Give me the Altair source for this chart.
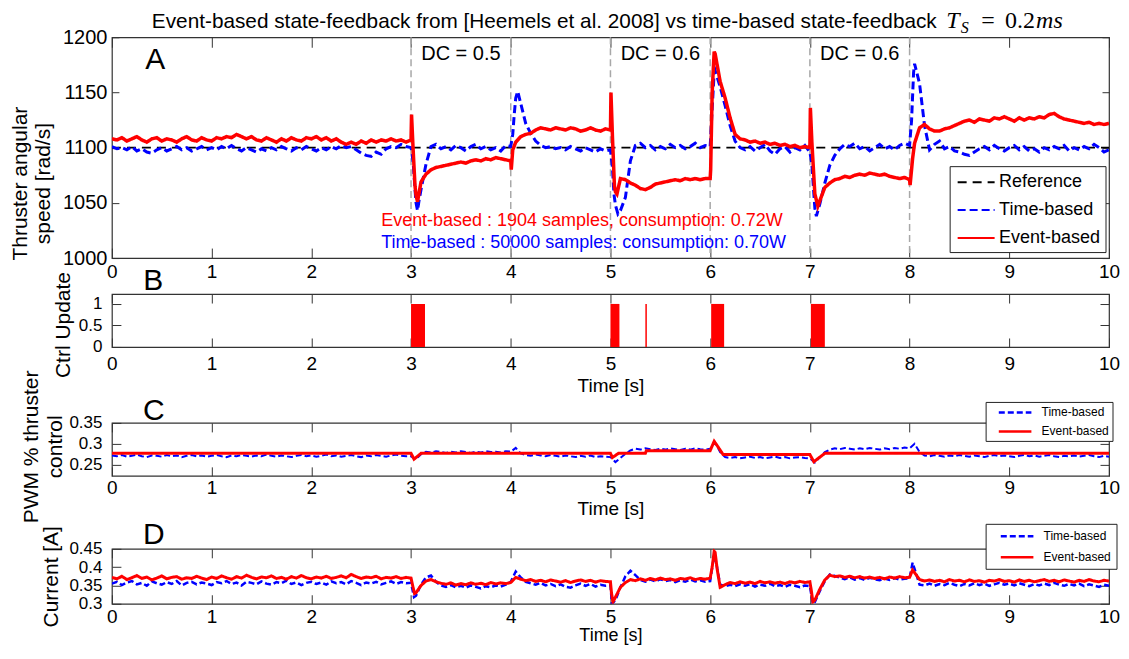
import altair as alt
import pandas as pd

FONT = "Liberation Sans"
SERIF = "Liberation Serif"
BLUE = "#0000ff"
RED = "#ff0000"

# ---------------- shared time axis ----------------
x_ticks = list(range(11))
grid_t = [round(i * 0.05, 2) for i in range(201)]  # sample instants of the arrays below

# ---------------- panel A : thruster angular speed [rad/s] ----------------
speed_event = [
    1108, 1107, 1109, 1106, 1108, 1110, 1107, 1105, 1108, 1109, 1106, 1108, 1107, 1105, 1108, 1110, 1107, 1106, 1109, 1107,
    1106, 1109, 1108, 1110, 1109, 1112, 1110, 1108, 1110, 1107, 1106, 1109, 1107, 1105, 1108, 1106, 1109, 1107, 1106, 1109,
    1108, 1110, 1107, 1109, 1106, 1108, 1105, 1103, 1105, 1103, 1106, 1104, 1107, 1105, 1107, 1106, 1108, 1106, 1107, 1105,
    1107, 1057, 1069, 1076, 1080, 1082, 1083, 1084, 1085, 1086, 1087, 1086, 1088, 1089, 1088, 1090, 1089, 1091, 1090, 1089,
    1088, 1105, 1110, 1112, 1113, 1116, 1118, 1117, 1116, 1118, 1117, 1116, 1118, 1117, 1115, 1116, 1118, 1116, 1115, 1117,
    1116, 1060, 1072, 1071, 1068, 1066, 1063, 1062, 1064, 1067, 1068, 1069, 1070, 1071, 1070, 1072, 1071, 1072, 1071, 1072,
    1072, 1185, 1160, 1145, 1127, 1112, 1108, 1107, 1105, 1106, 1104, 1105, 1103, 1104, 1102, 1103, 1101, 1102, 1100, 1101,
    1100, 1058, 1052, 1064, 1068, 1071, 1072, 1074, 1073, 1075, 1076, 1075, 1077, 1076, 1075, 1076, 1074, 1073, 1072, 1073,
    1071, 1104, 1118, 1121, 1117, 1115, 1115, 1117, 1118, 1120, 1122, 1124, 1125, 1123, 1126, 1125, 1124, 1127, 1126, 1128,
    1126, 1124, 1127, 1125, 1127, 1126, 1128, 1127, 1130, 1131, 1128, 1126, 1125, 1124, 1123, 1122, 1123, 1121, 1122, 1121,
    1122,
]
speed_event_extra_t = [3.005, 3.02, 3.04, 3.065, 4.005, 4.02, 5.005, 5.02, 5.04, 5.065,
                       6.005, 6.02, 6.04, 7.005, 7.02, 7.08, 8.005, 8.03]
speed_event_extra_v = [1130, 1100, 1065, 1051, 1080, 1098, 1150, 1110, 1065, 1058,
                       1080, 1150, 1187, 1136, 1105, 1047, 1066, 1090]

speed_time = [
    1101, 1099, 1100, 1098, 1101, 1097, 1099, 1096, 1095, 1098, 1100, 1097, 1099, 1101, 1098, 1100, 1097, 1099, 1101, 1098,
    1100, 1098, 1101, 1099, 1102, 1099, 1097, 1100, 1098, 1096, 1099, 1097, 1100, 1098, 1101, 1099, 1097, 1100, 1098, 1101,
    1099, 1097, 1100, 1098, 1101, 1099, 1102, 1100, 1101, 1098, 1095, 1093, 1092, 1096, 1094, 1099, 1101, 1100, 1103, 1101,
    1100, 1050, 1062, 1085, 1101, 1103, 1099, 1101, 1098, 1102, 1100, 1097, 1101, 1103, 1099, 1101, 1098, 1100, 1097, 1102,
    1101, 1145, 1140, 1122, 1113, 1106, 1102, 1100, 1101, 1099, 1100, 1098, 1101, 1099, 1097, 1100, 1098, 1096, 1099, 1097,
    1098, 1048, 1043, 1055, 1088, 1102, 1104, 1100, 1102, 1098, 1101, 1099, 1103, 1100, 1102, 1099, 1101, 1104, 1100, 1102,
    1101, 1170, 1155, 1138, 1120, 1106, 1100, 1098, 1101, 1097, 1100, 1103, 1097, 1094, 1099, 1101, 1096, 1100, 1098, 1102,
    1096, 1045, 1049, 1068, 1084, 1093, 1099, 1103, 1101, 1104, 1099, 1101, 1097, 1100, 1103, 1099, 1101, 1098, 1102, 1104,
    1102, 1176, 1158, 1120, 1098, 1103, 1106, 1099, 1101, 1097, 1096, 1094, 1093, 1096, 1099, 1101, 1098, 1102, 1099, 1097,
    1100, 1102, 1098, 1101, 1097, 1099, 1096, 1100, 1098, 1101, 1099, 1102, 1097, 1100, 1098, 1101, 1099, 1103, 1100, 1096,
    1098,
]
speed_time_extra_t = [3.02, 3.04, 3.065, 3.08, 4.02, 4.035, 4.07, 5.02, 5.035, 5.075,
                      6.02, 6.04, 7.02, 7.04, 7.065, 8.02, 8.04]
speed_time_extra_v = [1088, 1062, 1043, 1052, 1112, 1130, 1151, 1082, 1058, 1040,
                      1135, 1168, 1085, 1058, 1038, 1125, 1168]

reference_t = [0, 10]
reference_speed = [1100, 1100]
step_times = [3, 4, 5, 6, 7, 8]
dc_times = [3.5, 5.5, 7.5]
dc_labels = ["DC = 0.5", "DC = 0.6", "DC = 0.6"]
speed_ticks = [1000, 1050, 1100, 1150, 1200]

# ---------------- panel B : control updates ----------------
update_start = [3.0, 5.0, 5.35, 6.01, 7.01]
update_end = [3.14, 5.09, 5.365, 6.14, 7.15]
update_low = [0, 0, 0, 0, 0]
update_high = [1, 1, 1, 1, 1]
ctrl_ticks = [0, 0.5, 1]

# ---------------- panel C : PWM % thruster control ----------------
pwm_time = [
    0.272, 0.270, 0.273, 0.269, 0.271, 0.274, 0.270, 0.268, 0.272, 0.271, 0.269, 0.273, 0.270, 0.272, 0.268, 0.271, 0.273, 0.270, 0.272, 0.269,
    0.271, 0.273, 0.270, 0.268, 0.272, 0.270, 0.273, 0.271, 0.269, 0.272, 0.270, 0.274, 0.271, 0.269, 0.272, 0.270, 0.268, 0.271, 0.273, 0.270,
    0.272, 0.269, 0.271, 0.274, 0.270, 0.272, 0.269, 0.271, 0.273, 0.270, 0.268, 0.272, 0.270, 0.273, 0.271, 0.269, 0.272, 0.274, 0.271, 0.270,
    0.270, 0.263, 0.275, 0.281, 0.279, 0.282, 0.280, 0.278, 0.281, 0.279, 0.282, 0.280, 0.278, 0.281, 0.279, 0.282, 0.280, 0.281, 0.279, 0.282,
    0.281, 0.290, 0.277, 0.273, 0.271, 0.274, 0.272, 0.270, 0.273, 0.271, 0.269, 0.272, 0.270, 0.268, 0.271, 0.269, 0.272, 0.268, 0.270, 0.269,
    0.268, 0.256, 0.266, 0.276, 0.284, 0.288, 0.286, 0.289, 0.287, 0.285, 0.288, 0.286, 0.289, 0.287, 0.285, 0.288, 0.286, 0.289, 0.287, 0.286,
    0.288, 0.303, 0.280, 0.268, 0.266, 0.268, 0.265, 0.267, 0.269, 0.266, 0.268, 0.265, 0.267, 0.269, 0.266, 0.268, 0.265, 0.267, 0.268, 0.266,
    0.265, 0.255, 0.268, 0.280, 0.286, 0.289, 0.287, 0.290, 0.288, 0.286, 0.289, 0.287, 0.290, 0.288, 0.286, 0.289, 0.287, 0.290, 0.288, 0.291,
    0.289, 0.300, 0.280, 0.272, 0.270, 0.273, 0.271, 0.269, 0.272, 0.270, 0.273, 0.271, 0.269, 0.272, 0.270, 0.268, 0.271, 0.273, 0.270, 0.272,
    0.270, 0.268, 0.271, 0.273, 0.270, 0.272, 0.269, 0.271, 0.273, 0.270, 0.268, 0.271, 0.270, 0.272, 0.269, 0.271, 0.273, 0.270, 0.268, 0.271,
    0.269,
]
pwm_event_t = [0, 3.0, 3.03, 3.1, 5.0, 5.02, 5.08, 5.35, 5.36, 6.0, 6.04, 6.1, 6.13, 7.0, 7.04, 7.15, 10]
pwm_event_v = [0.277, 0.277, 0.263, 0.277, 0.277, 0.267, 0.277, 0.277, 0.2835, 0.2835, 0.306, 0.285, 0.274,
               0.274, 0.257, 0.277, 0.277]
pwm_ticks = [0.25, 0.3, 0.35]

# ---------------- panel D : current [A] ----------------
current_event = [
    0.372, 0.368, 0.375, 0.366, 0.371, 0.377, 0.369, 0.373, 0.365, 0.370, 0.376, 0.368, 0.372, 0.374, 0.367, 0.371, 0.369, 0.375, 0.370, 0.366,
    0.373, 0.369, 0.376, 0.371, 0.367, 0.374, 0.370, 0.378, 0.372, 0.368, 0.373, 0.371, 0.376, 0.369, 0.372, 0.367, 0.374, 0.370, 0.377, 0.371,
    0.368, 0.373, 0.370, 0.375, 0.369, 0.372, 0.376, 0.371, 0.380, 0.374, 0.369, 0.373, 0.371, 0.375, 0.368, 0.372, 0.370, 0.374, 0.369, 0.372,
    0.370, 0.330, 0.350, 0.362, 0.366, 0.360, 0.356, 0.353, 0.357, 0.351, 0.355, 0.352, 0.357, 0.353, 0.356, 0.352, 0.358, 0.354, 0.357, 0.355,
    0.358, 0.372, 0.367, 0.363, 0.366, 0.361, 0.364, 0.360, 0.365, 0.362, 0.359, 0.363, 0.358, 0.362, 0.365, 0.361, 0.364, 0.359, 0.363, 0.361,
    0.360, 0.318, 0.345, 0.358, 0.366, 0.363, 0.368, 0.364, 0.369, 0.365, 0.370, 0.366, 0.368, 0.364, 0.369, 0.367, 0.371, 0.366, 0.369, 0.367,
    0.370, 0.440, 0.345, 0.352, 0.358, 0.355, 0.360, 0.356, 0.359, 0.355, 0.361, 0.357, 0.360, 0.356, 0.359, 0.355, 0.360, 0.357, 0.361, 0.358,
    0.360, 0.310, 0.340, 0.365, 0.378, 0.374, 0.376, 0.372, 0.375, 0.371, 0.374, 0.370, 0.373, 0.369, 0.372, 0.368, 0.373, 0.370, 0.374, 0.371,
    0.372, 0.385, 0.366, 0.362, 0.365, 0.361, 0.364, 0.360, 0.366, 0.362, 0.364, 0.360, 0.365, 0.361, 0.363, 0.359, 0.364, 0.362, 0.366, 0.361,
    0.363, 0.359, 0.365, 0.361, 0.364, 0.360, 0.363, 0.366, 0.361, 0.364, 0.360, 0.365, 0.362, 0.359, 0.364, 0.361, 0.366, 0.362, 0.360, 0.364,
    0.362,
]
current_event_extra_t = [3.02, 3.035, 5.01, 5.025, 6.02, 6.04, 6.07, 7.015, 7.03, 8.03]
current_event_extra_v = [0.345, 0.328, 0.330, 0.305, 0.400, 0.443, 0.395, 0.335, 0.305, 0.392]

current_time = [
    0.355, 0.360, 0.351, 0.358, 0.362, 0.353, 0.357, 0.349, 0.361, 0.356, 0.352, 0.359, 0.354, 0.362, 0.350, 0.357, 0.360, 0.353, 0.358, 0.355,
    0.351, 0.359, 0.356, 0.362, 0.354, 0.358, 0.350, 0.360, 0.357, 0.353, 0.361, 0.355, 0.352, 0.359, 0.356, 0.363, 0.354, 0.358, 0.351, 0.357,
    0.360, 0.354, 0.358, 0.352, 0.361, 0.356, 0.359, 0.353, 0.362, 0.357, 0.351, 0.358, 0.355, 0.360, 0.353, 0.357, 0.361, 0.354, 0.359, 0.356,
    0.357, 0.322, 0.352, 0.372, 0.377, 0.360, 0.350, 0.346, 0.351, 0.345, 0.349, 0.344, 0.350, 0.346, 0.342, 0.348, 0.345, 0.350, 0.347, 0.352,
    0.360, 0.388, 0.372, 0.360, 0.356, 0.352, 0.357, 0.350, 0.354, 0.348, 0.353, 0.346, 0.344, 0.350, 0.355, 0.349, 0.354, 0.347, 0.352, 0.349,
    0.350, 0.310, 0.345, 0.375, 0.390, 0.378, 0.365, 0.360, 0.366, 0.361, 0.367, 0.362, 0.365, 0.359, 0.364, 0.360, 0.366, 0.361, 0.364, 0.360,
    0.362, 0.428, 0.352, 0.348, 0.352, 0.348, 0.353, 0.349, 0.354, 0.347, 0.352, 0.349, 0.355, 0.348, 0.351, 0.346, 0.352, 0.349, 0.345, 0.350,
    0.348, 0.305, 0.335, 0.362, 0.380, 0.376, 0.371, 0.367, 0.372, 0.366, 0.370, 0.365, 0.371, 0.367, 0.364, 0.369, 0.365, 0.370, 0.366, 0.368,
    0.370, 0.395, 0.352, 0.350, 0.355, 0.349, 0.354, 0.351, 0.357, 0.352, 0.348, 0.354, 0.350, 0.356, 0.351, 0.355, 0.349, 0.353, 0.357, 0.352,
    0.355, 0.350, 0.356, 0.352, 0.348, 0.354, 0.350, 0.355, 0.351, 0.357, 0.352, 0.349, 0.354, 0.350, 0.355, 0.348, 0.353, 0.350, 0.346, 0.352,
    0.349,
]
current_time_extra_t = [3.03, 5.015, 6.03, 6.045, 7.03, 8.03]
current_time_extra_v = [0.318, 0.300, 0.415, 0.430, 0.300, 0.412]
current_ticks = [0.3, 0.35, 0.4, 0.45]


# ---------------- helpers ----------------
def merged(grid_vals, extra_t, extra_v, name):
    pts = sorted(list(zip(grid_t, grid_vals)) + list(zip(extra_t, extra_v)))
    return pd.DataFrame({"t": [p[0] for p in pts], "v": [p[1] for p in pts], "series": name})


XS = alt.Scale(domain=[0, 10], nice=False, zero=False)


def yscale(dom):
    return alt.Scale(domain=dom, nice=False, zero=False)


def frame_layers(df, xf, yf, ydom, yticks, H, yfmt, ylab_size, ylab_pad, ytitle, ytitle_x, ytitle_y,
                 ytitle_lh, xlab_pad, xtitle, xtitle_pad, xtick, ytick, xtitle_size=19):
    bx = dict(orient="bottom", values=x_ticks, offset=-xtick, tickSize=xtick,
              labelPadding=xlab_pad, format="d", labelFontSize=19)
    if xtitle:
        bx.update(title=xtitle, titlePadding=xtitle_pad, titleFontSize=xtitle_size)
    else:
        bx.update(title=None)
    ly = dict(orient="left", values=yticks, offset=-ytick, tickSize=ytick, labelPadding=ylab_pad,
              labelFontSize=ylab_size, format=yfmt, title=ytitle, titleX=ytitle_x, titleY=ytitle_y,
              titleAngle=270, titleAlign="center", titleBaseline="top", titleLineHeight=ytitle_lh,
              titleFontSize=21)
    main = alt.Chart(df).mark_point(opacity=0).encode(
        x=alt.X(f"{xf}:Q", scale=XS, axis=alt.Axis(**bx)),
        y=alt.Y(f"{yf}:Q", scale=yscale(ydom), axis=alt.Axis(**ly)),
    )
    other = alt.Chart(df).mark_point(opacity=0).encode(
        x=alt.X(f"{xf}:Q", scale=XS, axis=alt.Axis(orient="top", values=x_ticks, offset=-xtick,
                                                     tickSize=xtick, labels=False, title=None)),
        y=alt.Y(f"{yf}:Q", scale=yscale(ydom), axis=alt.Axis(orient="right", values=yticks, offset=-ytick,
                                                              tickSize=ytick, labels=False, title=None)),
    )
    return [main, other]


def line_layer(df, ydom, dom, rng, dashes, legend, width):
    return alt.Chart(df).mark_line(strokeWidth=width, clip=True).encode(
        x=alt.X("t:Q", scale=XS, axis=None),
        y=alt.Y("v:Q", scale=yscale(ydom), axis=None),
        color=alt.Color("series:N", scale=alt.Scale(domain=dom, range=rng), legend=legend, title=None),
        strokeDash=alt.StrokeDash("series:N", scale=alt.Scale(domain=dom, range=dashes), legend=legend,
                                  title=None),
    )


def label_text(s, px, py, size, color="black", font=FONT, style="normal", align="center",
               baseline="middle"):
    return alt.Chart(pd.DataFrame({"s": [s]})).mark_text(
        fontSize=size, font=font, fontStyle=style, color=color, align=align, baseline=baseline
    ).encode(text="s:N", x=alt.value(px), y=alt.value(py))


W = 998
HA, HB, HC, HD = 221, 53, 53, 55

# ---------------- panel A ----------------
domA = [1000, 1200]
namesA = ["Reference", "Time-based", "Event-based"]
colorsA = ["black", BLUE, RED]
dashesA = [[9, 6], [8, 4], [1, 0]]
legA = alt.Legend(title=None, orient="none", legendX=838.5, legendY=129, direction="vertical",
                  strokeColor="#222", fillColor="white", padding=5, labelFont=FONT, labelFontSize=18,
                  labelColor="black", symbolType="M-1.85,0H1.85", symbolSize=400, symbolStrokeWidth=2,
                  symbolOffset=10.5, labelOffset=12, rowPadding=8)

dfA_ref = pd.DataFrame({"t": reference_t, "v": reference_speed, "series": "Reference"})
dfA_time = merged(speed_time, speed_time_extra_t, speed_time_extra_v, "Time-based")
dfA_event = merged(speed_event, speed_event_extra_t, speed_event_extra_v, "Event-based")

stepsA = alt.Chart(pd.DataFrame({"t": step_times})).mark_rule(
    color="#a8a8a8", strokeDash=[7, 4], strokeWidth=1.5
).encode(x=alt.X("t:Q", scale=XS, axis=None))
dcA = alt.Chart(pd.DataFrame({"t": dc_times, "label": dc_labels})).mark_text(
    fontSize=20, font=FONT, color="black"
).encode(x=alt.X("t:Q", scale=XS, axis=None), y=alt.value(17), text="label:N")

layersA = [stepsA,
           line_layer(dfA_ref, domA, namesA, colorsA, dashesA, legA, 1.6),
           line_layer(dfA_time, domA, namesA, colorsA, dashesA, legA, 3),
           line_layer(dfA_event, domA, namesA, colorsA, dashesA, legA, 3.5),
           dcA,
           label_text("Event-based : 1904 samples, consumption: 0.72W", 269.5, 184, 18, RED, align="left"),
           label_text("Time-based : 50000 samples: consumption: 0.70W", 269.5, 206, 18, BLUE, align="left"),
           label_text("A", 43.5, 23, 30),
           label_text("Event-based state-feedback from [Heemels et al. 2008] vs time-based state-feedback",
                      40, -9, 20.8, align="left", baseline="alphabetic"),
           label_text("T", 835, -9, 24, font=SERIF, style="italic", align="left", baseline="alphabetic"),
           label_text("S", 849.5, -4, 16, font=SERIF, style="italic", align="left", baseline="alphabetic"),
           label_text("=", 870, -9, 24, font=SERIF, align="left", baseline="alphabetic"),
           label_text("0.2", 894, -9, 24, font=SERIF, align="left", baseline="alphabetic"),
           label_text("ms", 925, -9, 24, font=SERIF, style="italic", align="left", baseline="alphabetic"),
           ] + frame_layers(dfA_event, "t", "v", domA, speed_ticks, HA, "d", 20, 5,
                            ["Thruster angular", "speed [rad/s]"], -109.5, 146, 23,
                            4, None, 0, 10, 7)
panelA = alt.layer(*layersA).resolve_axis(x="independent", y="independent").properties(width=W, height=HA)

# ---------------- panel B ----------------
domB = [0, 1.23]
dfB = pd.DataFrame({"start": update_start, "end": update_end, "low": update_low, "high": update_high})
barsB = alt.Chart(dfB).mark_rect(color=RED).encode(
    x=alt.X("start:Q", scale=XS, axis=None), x2="end:Q",
    y=alt.Y("low:Q", scale=yscale(domB), axis=None), y2="high:Q",
)
layersB = [barsB, label_text("B", 41.5, -13, 30)] + frame_layers(
    dfB, "start", "high", domB, ctrl_ticks, HB, "~g", 17, 10, "Ctrl Update", -68.5, HB / 2 + 4, 23,
    8, "Time [s]", 3, 9, 9)
panelB = alt.layer(*layersB).resolve_axis(x="independent", y="independent").properties(width=W, height=HB)

# ---------------- panel C ----------------
names2 = ["Time-based", "Event-based"]
colors2 = [BLUE, RED]
dashes2 = [[6, 3], [1, 0]]
domC = [0.223, 0.35]
legC = alt.Legend(title=None, orient="none", legendX=874.5, legendY=-21, direction="vertical",
                  strokeColor="#222", fillColor="white", padding=3, labelFont=FONT, labelFontSize=12,
                  labelColor="black", symbolType="M-2.72,0H2.72", symbolSize=144, symbolStrokeWidth=2.5,
                  symbolOffset=19, labelOffset=19, rowPadding=5)
dfC_time = pd.DataFrame({"t": grid_t, "v": pwm_time, "series": "Time-based"})
dfC_event = pd.DataFrame({"t": pwm_event_t, "v": pwm_event_v, "series": "Event-based"})
layersC = [line_layer(dfC_time, domC, names2, colors2, dashes2, legC, 2),
           line_layer(dfC_event, domC, names2, colors2, dashes2, legC, 3),
           label_text("C", 42, -12, 30)] + frame_layers(
    dfC_time, "t", "v", domC, pwm_ticks, HC, "~g", 17, 10, ["PWM % thruster", "control"], -100.5,
    HC / 2 - 3, 24, 3, "Time [s]", 2, 9, 9)
panelC = alt.layer(*layersC).resolve_axis(x="independent", y="independent").properties(width=W, height=HC)

# ---------------- panel D ----------------
domD = [0.3, 0.45]
legD = alt.Legend(title=None, orient="none", legendX=874.5, legendY=-25, direction="vertical",
                  strokeColor="#222", fillColor="white", padding=5, labelFont=FONT, labelFontSize=12,
                  labelColor="black", symbolType="M-2.72,0H2.72", symbolSize=144, symbolStrokeWidth=2.5,
                  symbolOffset=19, labelOffset=19, rowPadding=7)
dfD_time = merged(current_time, current_time_extra_t, current_time_extra_v, "Time-based")
dfD_event = merged(current_event, current_event_extra_t, current_event_extra_v, "Event-based")
layersD = [line_layer(dfD_time, domD, names2, colors2, dashes2, legD, 2.5),
           line_layer(dfD_event, domD, names2, colors2, dashes2, legD, 3),
           label_text("D", 42, -14, 30)] + frame_layers(
    dfD_time, "t", "v", domD, current_ticks, HD, "~g", 17, 10, "Current [A]", -80.5, HD / 2, 23,
    4, "Time [s]", 0, 9, 9, xtitle_size=18)
panelD = alt.layer(*layersD).resolve_axis(x="independent", y="independent").properties(width=W, height=HD)

# ---------------- assemble ----------------
inner = alt.vconcat(panelC, panelD, spacing=73, bounds="flush").resolve_scale(
    color="independent", strokeDash="independent")
mid = alt.vconcat(panelB, inner, spacing=76, bounds="flush").resolve_scale(
    color="independent", strokeDash="independent")
chart = alt.vconcat(panelA, mid, spacing=36, bounds="flush").resolve_scale(
    color="independent", strokeDash="independent"
).properties(
    padding={"left": 0, "top": 0, "right": 0, "bottom": 0}, background="white"
).configure_view(
    stroke="#333", strokeWidth=1.2
).configure_axis(
    grid=False, domain=False, tickColor="#333", tickWidth=1, labelColor="black", titleColor="black",
    labelFont=FONT, titleFont=FONT, labelFontSize=18, titleFontSize=19, titleFontWeight="normal",
    labelFlush=False, labelOverlap=False, labelBound=False, minExtent=0
)

chart.save("out.html", embed_options={"renderer": "svg", "actions": False})
